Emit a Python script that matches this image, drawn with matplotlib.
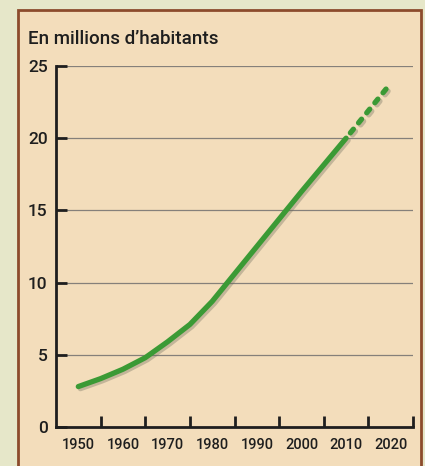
import matplotlib
matplotlib.use("Agg")
import matplotlib.pyplot as plt
from matplotlib.patches import Rectangle
import matplotlib.patheffects as pe

years_solid = [1950, 1955, 1960, 1965, 1970, 1975, 1980, 1985, 1990, 1995, 2000, 2005, 2010]
pop_solid = [2.8, 3.35, 4.0, 4.8, 5.9, 7.1, 8.7, 10.6, 12.5, 14.4, 16.3, 18.15, 20.0]
years_proj = [2010, 2020]
pop_proj = [20.0, 23.8]
year_labels = ["1950", "1960", "1970", "1980", "1990", "2000", "2010", "2020"]
y_ticks = [0, 5, 10, 15, 20, 25]
title = "En millions d\u2019habitants"

outer = "#e6e7c9"
inner = "#f3ddbb"
frame = "#8c4b2c"
green = "#3b9a35"
ink = "#1e1e1e"

plt.rcParams["font.family"] = ["Roboto", "DejaVu Sans"]

fig = plt.figure(figsize=(4.25, 4.66), dpi=100)
fig.patch.set_facecolor(outer)
W, H = 425, 466
fig.patches.append(Rectangle((18 / W, -0.01), (421 - 18) / W, 1.01 - 10 / H,
                             transform=fig.transFigure, facecolor=inner,
                             edgecolor=frame, linewidth=2, zorder=-10))

ax = fig.add_axes([56 / W, 1 - 427 / H, (413 - 56) / W, (427 - 66) / H])
ax.set_facecolor("none")
ax.set_zorder(5)
ax.set_xlim(1945, 2025)
ax.set_ylim(0, 25)

for v in y_ticks[1:]:
    ax.axhline(v, xmin=8 / 357, xmax=1, color="#85807a", lw=0.9, zorder=1)

shadow = [pe.SimpleLineShadow(offset=(1.5, -1.5), shadow_color="#6b6b5a", alpha=0.35), pe.Normal()]
ax.plot(years_solid, pop_solid, color=green, lw=3.8, solid_capstyle="round",
        solid_joinstyle="round", zorder=3, path_effects=shadow)
ax.plot(years_proj, pop_proj, color=green, lw=3.8, linestyle=(-1.3, (0.9, 1.55)),
        dash_capstyle="round", zorder=3, path_effects=shadow)

for s in ["top", "right"]:
    ax.spines[s].set_visible(False)
for s in ["left", "bottom"]:
    ax.spines[s].set_linewidth(2)
    ax.spines[s].set_color(ink)

ax.set_yticks(y_ticks)
ax.set_yticklabels([str(v) for v in y_ticks], fontweight="medium")
ax.tick_params(axis="y", direction="in", length=8, width=2, color=ink,
               labelsize=12.5, labelcolor=ink, pad=6)

major_x = [1955 + 10 * i for i in range(8)]
ax.set_xticks(major_x)
ax.set_xticklabels([])
ax.tick_params(axis="x", which="major", direction="in", length=8, width=2, color=ink)
ax.set_xticks([1950 + 10 * i for i in range(8)], minor=True)
ax.set_xticklabels(year_labels, minor=True, fontweight="medium")
ax.tick_params(axis="x", which="minor", length=0, labelsize=10.5, labelcolor=ink, pad=8)

fig.text(28 / W, 1 - 44 / H, title, fontsize=13.5, color=ink, ha="left",
         va="baseline", fontweight="medium")

fig.savefig("out.png", dpi=100, facecolor=fig.get_facecolor())
